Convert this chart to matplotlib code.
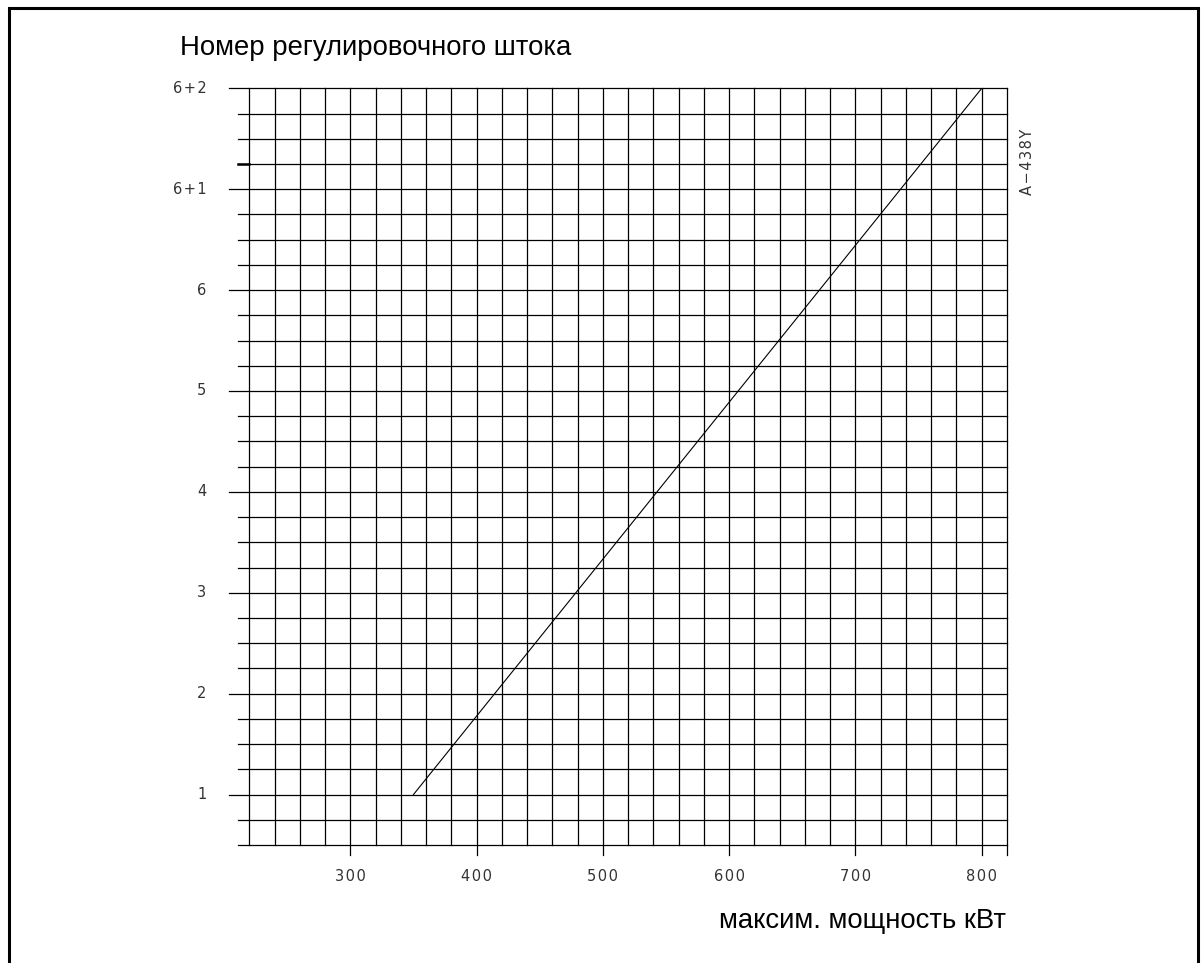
import numpy as np
import matplotlib.pyplot as plt
from matplotlib.patches import Rectangle

# data
power_kw = [350, 800]
rod_number = [1, 8]
y_tick_vals = [1, 2, 3, 4, 5, 6, 7, 8]
y_tick_labels = ['1', '2', '3', '4', '5', '6', '6+1', '6+2']
x_tick_vals = [300, 400, 500, 600, 700, 800]
x_grid = np.arange(220, 821, 20)
y_grid = np.arange(0.5, 8.01, 0.25)

W, H = 1201, 963
fig = plt.figure(figsize=(W / 100, H / 100), dpi=100)

# axes placed so that 220..820 / 0.5..8 fall on the drawn grid
x0, x1 = 249.3, 1007.0
y0, y1 = 845.0, 88.3
ax = fig.add_axes([x0 / W, 1 - y0 / H, (x1 - x0) / W, (y0 - y1) / H])
ax.set_xlim(220, 820)
ax.set_ylim(0.5, 8)
ax.axis('off')

pxx = 600 / (x1 - x0)
pxy = 7.5 / (y0 - y1)
lw = 0.9


def spaced(s):
    # the drawing's stroke font is wide, so pad letters with hair spaces
    return '\u200a'.join(s)


for v in x_grid:
    ybot = 0.5
    if v in x_tick_vals or v == 820:
        ybot = 0.5 - 10 * pxy
    ax.plot([v, v], [ybot, 8], color='black', lw=lw, clip_on=False)

for v in y_grid:
    if abs(v - round(v)) < 1e-9 and v >= 1:
        xl = 220 - 20.3 * pxx
    else:
        xl = 220 - 11.3 * pxx
    ax.plot([xl, 820], [v, v], color='black', lw=lw, clip_on=False)

# small heavier stub at 6+1.25
ax.plot([220 - 11.3 * pxx, 220], [7.25, 7.25], color='black', lw=1.8, clip_on=False)

ax.plot(power_kw, rod_number, color='black', lw=0.8)

for v, s in zip(y_tick_vals, y_tick_labels):
    ax.text(220 - 43 * pxx, v, spaced(s), ha='right', va='center', fontsize=10.5,
            color='#333333', family='DejaVu Sans', clip_on=False)
for v in x_tick_vals:
    ax.text(v, 0.5 - 31 * pxy, spaced(str(v)), ha='center', va='center', fontsize=10.5,
            color='#333333', family='DejaVu Sans', clip_on=False)

fig.text(1028 / W, 1 - 162 / H, spaced('A\u2212438Y'), rotation=90, ha='center',
         va='center', fontsize=10.5, color='#333333', family='DejaVu Sans')

fig.text(180 / W, 1 - 48 / H, 'Номер регулировочного штока', ha='left', va='center',
         fontsize=19.8, family='Liberation Sans')
fig.text(1006 / W, 1 - 921 / H, 'максим. мощность кВт', ha='right', va='center',
         fontsize=19.8, family='Liberation Sans')

fig.patches.append(Rectangle((9 / W, -0.05), (1198 - 9) / W, 1.05 - 8 / H,
                             transform=fig.transFigure, fill=False,
                             edgecolor='black', lw=2.2))

fig.savefig('out.png', dpi=100, facecolor='white')
